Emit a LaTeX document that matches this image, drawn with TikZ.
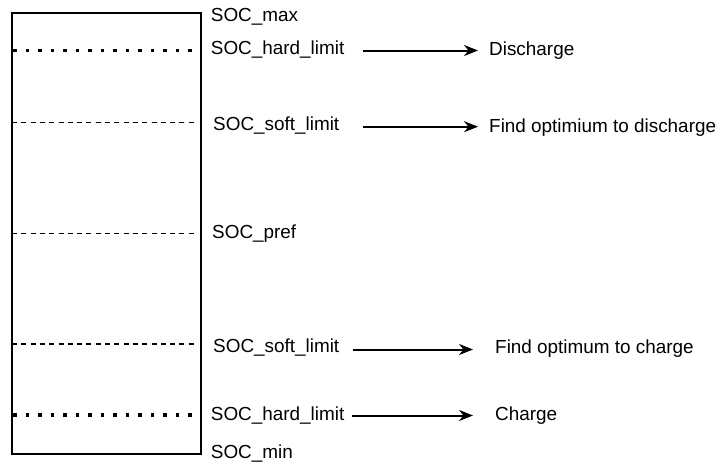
\documentclass[tikz,border=0pt]{standalone}
\usepackage{fontspec}
\setmainfont{Liberation Sans}
\usetikzlibrary{arrows.meta}
\begin{document}
\begin{tikzpicture}[x=1pt,y=-1pt,
  lbl/.style={anchor=base west,inner sep=0pt,font=\fontsize{18.9}{22}\selectfont},
  frame/.style={draw=black,line width=2pt},
  hardline/.style={line width=3.5pt,dash pattern=on 3.4pt off 9.1pt},
  softline/.style={line width=1.5pt,dash pattern=on 5pt off 4.3pt},
  conn/.style={line width=2pt,-{Stealth[length=14pt,width=11pt,inset=4.5pt]}}]
  \useasboundingbox (0,0) rectangle (717,463);

  % state-of-charge bar
  \draw[frame] (11.5,12.5) rectangle (201,454);

  % threshold levels
  \draw[hardline] (13.3,50.5) -- (193,50.5);
  \draw[softline] (12,122.7) -- (197,122.7);
  \draw[softline] (12,233.3) -- (197,233.3);
  \draw[softline] (12,344) -- (197,344);
  \draw[hardline] (13.3,415) -- (193,415);

  % level labels
  \node[lbl] (socmax)   at (210.7,21)   {SOC\_max};
  \node[lbl] (hardtop)  at (210.7,54.5) {SOC\_hard\_limit};
  \node[lbl] (softtop)  at (213,130)    {SOC\_soft\_limit};
  \node[lbl] (socpref)  at (212,238)    {SOC\_pref};
  \node[lbl] (softbot)  at (213,352.5)  {SOC\_soft\_limit};
  \node[lbl] (hardbot)  at (210.7,420)  {SOC\_hard\_limit};
  \node[lbl] (socmin)   at (210.7,458)  {SOC\_min};

  % actions
  \node[lbl] (discharge)  at (489,55)  {Discharge};
  \node[lbl] (optdis)     at (489,132) {Find optimium to discharge};
  \node[lbl] (optcharge)  at (495,353) {Find optimum to charge};
  \node[lbl] (charge)     at (495,420) {Charge};

  % connector end points
  \coordinate (a1s) at (363,50.5);  \coordinate (a1e) at (478,50.5);
  \coordinate (a2s) at (363,126.7); \coordinate (a2e) at (478,126.7);
  \coordinate (a3s) at (353,349.5); \coordinate (a3e) at (473,349.5);
  \coordinate (a4s) at (352,415.5); \coordinate (a4e) at (473,415.5);

  \draw[conn] (a1s) -- (a1e);
  \draw[conn] (a2s) -- (a2e);
  \draw[conn] (a3s) -- (a3e);
  \draw[conn] (a4s) -- (a4e);
\end{tikzpicture}
\end{document}
